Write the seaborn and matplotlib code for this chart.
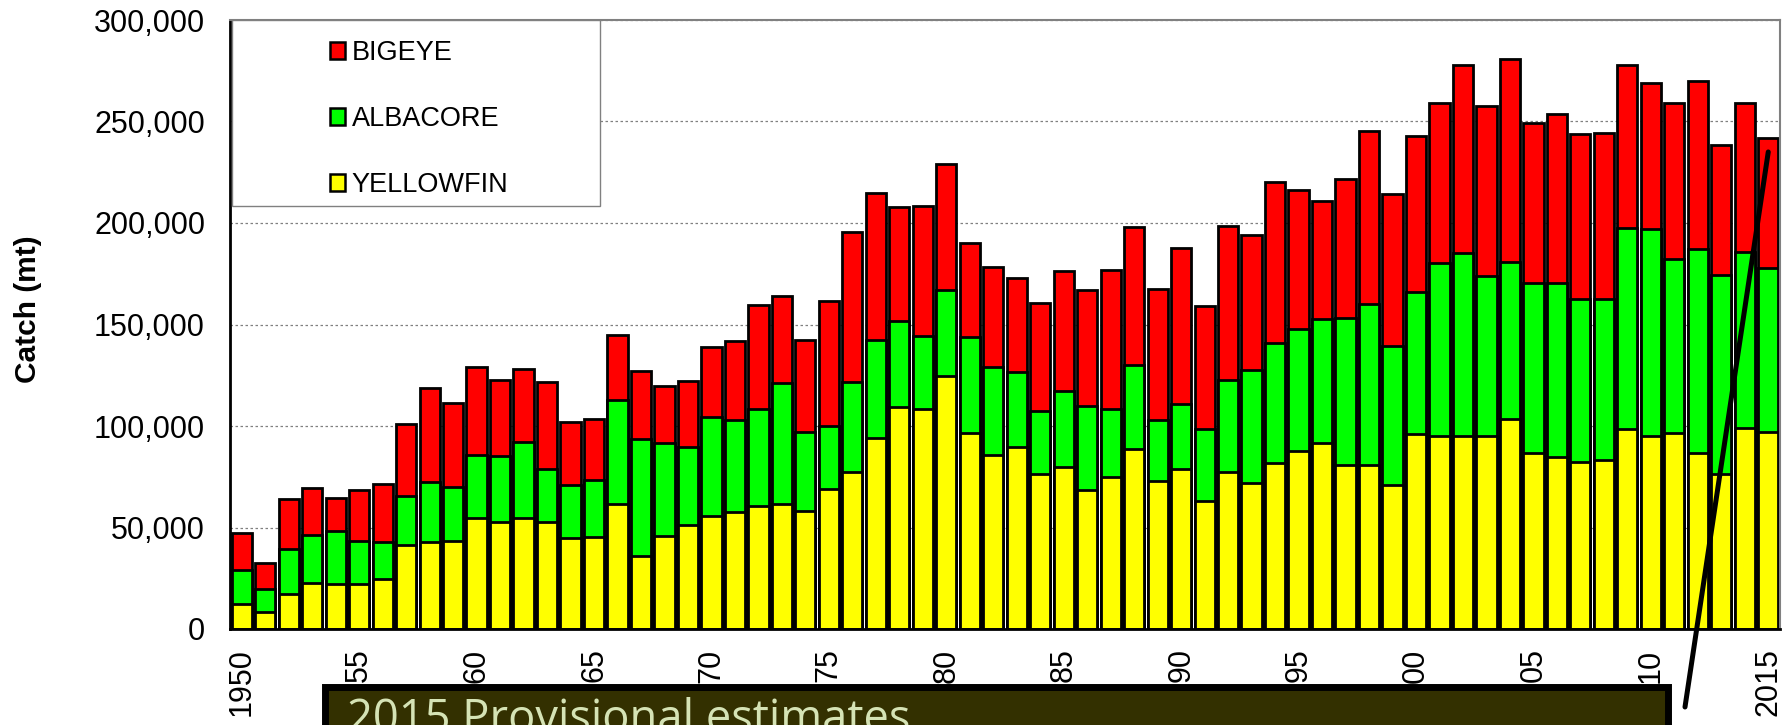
import matplotlib
matplotlib.use("Agg")
import matplotlib.pyplot as plt
import pandas as pd
import seaborn as sns
from matplotlib.patches import Rectangle, Patch

# ---------------- data ----------------
years = list(range(1950, 2016))
yellowfin = [12400, 8600, 17000, 22600, 22200, 22200, 24800, 41500, 43100, 43500,
             54500, 52900, 54900, 52500, 44700, 45100, 61500, 35900, 45700, 51100,
             55500, 57500, 60700, 61700, 57900, 69100, 77200, 94000, 109600, 108400,
             124600, 96600, 85800, 89800, 76600, 79600, 68500, 74900, 88600, 72900,
             78800, 63100, 77200, 71700, 81600, 87800, 91400, 80600, 80600, 70700,
             96200, 95300, 95300, 95300, 103500, 86900, 84600, 82300, 83300, 98700,
             95300, 96700, 86900, 76400, 99000, 97100]
albacore = [16700, 11200, 22500, 23900, 26100, 21300, 18300, 24000, 29400, 26600,
            31300, 32300, 37300, 26500, 26200, 28400, 51100, 57700, 45900, 38500,
            48700, 45700, 47900, 59700, 39100, 31100, 44400, 48500, 42100, 36100,
            42300, 47100, 43500, 36900, 31000, 37600, 41500, 33500, 41500, 29900,
            32000, 35300, 45400, 56000, 59500, 60100, 61500, 72700, 79700, 68600,
            69700, 84900, 89900, 78700, 77100, 83500, 85600, 80100, 79100, 99000,
            101900, 85700, 100500, 97900, 86900, 80800]
bigeye = [18400, 12900, 24400, 22800, 16000, 25000, 28400, 35500, 46100, 41100,
          43500, 37400, 36100, 42600, 31100, 29900, 32100, 33700, 28000, 32600,
          34900, 38500, 50900, 42700, 45500, 61300, 73800, 72100, 56300, 63700,
          62400, 46500, 48900, 46000, 53100, 59000, 57100, 68600, 68100, 64700,
          77000, 60900, 76000, 66500, 79100, 68300, 57900, 68300, 85000, 74900,
          76800, 78900, 92600, 83500, 100100, 78700, 83700, 81500, 82100, 80100,
          71700, 76700, 82600, 64100, 73400, 63900]

series_names = ["BIGEYE", "ALBACORE", "YELLOWFIN"]
series_colors = ["#FF0000", "#00FF00", "#FFFF00"]
x_tick_years = [1950, 1955, 1960, 1965, 1970, 1975, 1980, 1985, 1990, 1995,
                2000, 2005, 2010, 2015]
x_tick_labels = ["1950", "55", "60", "65", "70", "75", "80", "85", "90", "95",
                 "00", "05", "10", "2015"]
y_ticks = [0, 50000, 100000, 150000, 200000, 250000, 300000]
y_tick_labels = ["0", "50,000", "100,000", "150,000", "200,000", "250,000", "300,000"]
y_label = "Catch (mt)"
note_text = "2015 Provisional estimates"

df = pd.DataFrame({"year": years, "YELLOWFIN": yellowfin,
                   "ALBACORE": albacore, "BIGEYE": bigeye})
df["YA"] = df["YELLOWFIN"] + df["ALBACORE"]
df["TOTAL"] = df["YA"] + df["BIGEYE"]

# ---------------- style ----------------
sns.set_style("white")
plt.rcParams["font.family"] = ["Liberation Sans", "DejaVu Sans"]
plt.rcParams["text.color"] = "black"
plt.rcParams["axes.labelcolor"] = "black"
plt.rcParams["xtick.color"] = "black"
plt.rcParams["ytick.color"] = "black"

W, H = 1782, 725
fig = plt.figure(figsize=(W / 100, H / 100), dpi=100)
ax = fig.add_axes([230 / W, 1 - 629 / H, 1550 / W, 609 / H])

layers = [("TOTAL", series_colors[0]), ("YA", series_colors[1]), ("YELLOWFIN", series_colors[2])]
for col, colr in layers:
    sns.barplot(data=df, x="year", y=col, color=colr, saturation=1, width=0.86,
                edgecolor="black", linewidth=2.0, errorbar=None, ax=ax, zorder=2)

ax.set_xlim(-0.5, len(years) - 0.5)
ax.set_ylim(0, 300000)
ax.set_axisbelow(True)
ax.yaxis.grid(True, linestyle=(0, (2, 2)), color="#808080", linewidth=0.9)
ax.xaxis.grid(False)

ax.set_xticks([years.index(y) for y in x_tick_years])
ax.set_xticklabels(x_tick_labels, rotation=90, fontsize=22, va="top", ha="center")
ax.set_yticks(y_ticks)
ax.set_yticklabels(y_tick_labels, fontsize=22)
ax.tick_params(axis="x", length=0, pad=14, colors="black")
ax.tick_params(axis="y", length=0, pad=18, colors="black")
ax.set_xlabel("")
ax.set_ylabel(y_label, fontsize=21.5, fontweight="bold", color="black")
ax.yaxis.set_label_coords(-0.1213, 0.525)

for s in ["left", "bottom"]:
    ax.spines[s].set_color("black")
    ax.spines[s].set_linewidth(2)
for s in ["top", "right"]:
    ax.spines[s].set_color("#808080")
    ax.spines[s].set_linewidth(1.5)

# legend box
ax.add_patch(Rectangle((0.0013, 0.695), 0.2374, 0.305, transform=ax.transAxes,
                       facecolor="white", edgecolor="#808080", linewidth=1.0, zorder=4))
handles = [Patch(facecolor=c, edgecolor="black", linewidth=1.8) for c in series_colors]
leg = ax.legend(handles, series_names, loc="upper left",
                bbox_to_anchor=(330 / W, 1 - 40 / H), bbox_transform=fig.transFigure,
                frameon=False, fontsize=19.5, handlelength=0.55, handleheight=0.55,
                handletextpad=0.25, labelspacing=1.48, borderpad=0, borderaxespad=0)
leg.set_zorder(6)
for t in leg.get_texts():
    t.set_color("black")

# pointer line
ax.annotate("", xy=(years.index(2015), 235000), xycoords="data",
            xytext=(1685, H - 707), textcoords="figure pixels",
            arrowprops=dict(arrowstyle="-", color="black", lw=3.6, shrinkA=0, shrinkB=0),
            annotation_clip=False, zorder=8)

# note box
fig.add_artist(Rectangle((324.5 / W, -0.05), (1667.5 - 324.5) / W, (H - 686.5) / H + 0.05,
                         transform=fig.transFigure, facecolor="#333000",
                         edgecolor="black", linewidth=5, zorder=10, clip_on=False))
fig.text(347 / W, -7 / H, note_text, fontsize=32.6, family=["Open Sans", "DejaVu Sans"],
         color="#d5e3b5", va="baseline", ha="left", zorder=11)

fig.savefig("out.png", dpi=100)
